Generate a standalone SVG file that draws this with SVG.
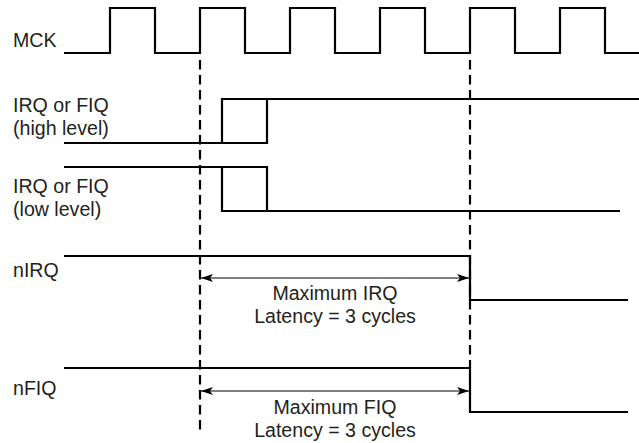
<svg xmlns="http://www.w3.org/2000/svg" width="639" height="443" viewBox="0 0 639 443">
<style>
.sig{fill:none;stroke:#000;stroke-width:2.2;stroke-linejoin:miter;stroke-linecap:butt}
.dash{fill:none;stroke:#000;stroke-width:2.2;stroke-dasharray:9.5 5.5}
.arr{fill:none;stroke:#000;stroke-width:1;marker-start:url(#ah);marker-end:url(#ah)}
text{font-family:"Liberation Sans",Arial,sans-serif;font-size:19.6px;fill:#231f20}
.c{text-anchor:middle}
</style>
<defs>
<marker id="ah" viewBox="0 0 12 8" refX="12" refY="4" markerWidth="12" markerHeight="8" markerUnits="userSpaceOnUse" orient="auto-start-reverse">
<path d="M0,0 L12,4 L0,8 L3,4 Z" fill="#000"/>
</marker>
</defs>
<g id="connectors">
<line class="dash" x1="200" y1="60" x2="200" y2="432"/>
<line class="dash" x1="470" y1="60" x2="470" y2="368"/>
<line class="arr" x1="201" y1="278" x2="469" y2="278"/>
<line class="arr" x1="201" y1="391" x2="469" y2="391"/>
</g>
<g id="mck">
<text x="13" y="47">MCK</text>
<path class="sig" d="M64,53 H110 V8 H155 V53 H200 V8 H245 V53 H290 V8 H335 V53 H380 V8 H425 V53 H470 V8 H515 V53 H560 V8 H605 V53 H639"/>
</g>
<g id="irq-high">
<text x="13" y="112">IRQ or FIQ</text>
<text x="13" y="135">(high level)</text>
<path class="sig" d="M64,143 H267 V99 M222,143 V99 H639"/>
</g>
<g id="irq-low">
<text x="13" y="193">IRQ or FIQ</text>
<text x="13" y="216">(low level)</text>
<path class="sig" d="M64,167 H267 V211 M222,167 V211 H620"/>
</g>
<g id="nirq">
<text x="13" y="277">nIRQ</text>
<path class="sig" d="M64,256 H470 V300 H628"/>
<text class="c" x="335" y="300">Maximum IRQ</text>
<text class="c" x="335" y="323">Latency = 3 cycles</text>
</g>
<g id="nfiq">
<text x="13" y="395">nFIQ</text>
<path class="sig" d="M64,368 H470 V412 H628"/>
<text class="c" x="335" y="414">Maximum FIQ</text>
<text class="c" x="335" y="437">Latency = 3 cycles</text>
</g>
</svg>
